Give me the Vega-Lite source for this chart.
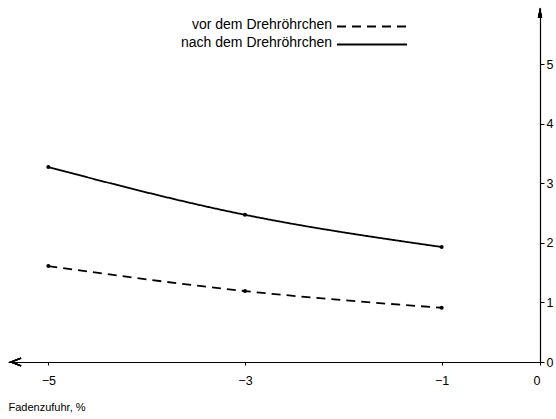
{
  "$schema": "https://vega.github.io/schema/vega-lite/v6.json",
  "autosize": "none",
  "width": 532,
  "height": 354,
  "padding": {"left": 8, "top": 8, "right": 16, "bottom": 57},
  "background": "white",
  "config": {
    "font": "Liberation Sans",
    "view": {"stroke": null},
    "axis": {"grid": false, "domainColor": "black", "tickColor": "black", "labelColor": "black", "titleColor": "black", "domainWidth": 1.2}
  },
  "data": {
    "values": [
      {"zufuhr": -5, "wert": 1.61, "serie": "vor dem Drehröhrchen"},
      {"zufuhr": -3, "wert": 1.19, "serie": "vor dem Drehröhrchen"},
      {"zufuhr": -1, "wert": 0.91, "serie": "vor dem Drehröhrchen"},
      {"zufuhr": -5, "wert": 3.27, "serie": "nach dem Drehröhrchen"},
      {"zufuhr": -3, "wert": 2.47, "serie": "nach dem Drehröhrchen"},
      {"zufuhr": -1, "wert": 1.93, "serie": "nach dem Drehröhrchen"}
    ]
  },
  "encoding": {
    "x": {
      "field": "zufuhr", "type": "quantitative",
      "scale": {"domain": [-5.41, 0], "nice": false, "zero": false},
      "axis": {
        "values": [-5, -3, -1, 0], "title": "Fadenzufuhr, %",
        "labelFontSize": 12.5, "labelPadding": 9, "tickSize": 3,
        "titleFontSize": 11, "titleFontWeight": "normal",
        "titleAnchor": "start", "titleAlign": "left", "titleX": 0, "titleY": 45, "titleBaseline": "middle"
      }
    },
    "y": {
      "field": "wert", "type": "quantitative",
      "scale": {"domain": [0, 5.94], "nice": false},
      "axis": {
        "orient": "right", "values": [0, 1, 2, 3, 4, 5], "title": null,
        "labelFontSize": 12.5, "labelPadding": 2, "tickSize": 4
      }
    }
  },
  "layer": [
    {
      "mark": {"type": "line", "interpolate": "monotone", "color": "black", "strokeWidth": 1.8},
      "encoding": {
        "detail": {"field": "serie"},
        "strokeDash": {
          "field": "serie", "type": "nominal",
          "scale": {"domain": ["vor dem Drehröhrchen", "nach dem Drehröhrchen"], "range": [[9, 6], [1, 0]]},
          "legend": {
            "title": null, "orient": "none", "legendX": 322, "legendY": 10,
            "padding": 0, "symbolType": "M0,0.3H14", "symbolSize": 100,
            "symbolStrokeColor": "black", "symbolStrokeWidth": 1.8,
            "labelAlign": "right", "labelOffset": -12, "labelFontSize": 14,
            "labelColor": "black", "rowPadding": 4, "labelLimit": 300
          }
        }
      }
    },
    {
      "mark": {"type": "point", "filled": true, "color": "black", "size": 16, "opacity": 1}
    },
    {
      "mark": {"type": "point", "shape": "M1.6,-1L-1,0L1.6,1", "filled": false, "stroke": "black", "strokeWidth": 1.4, "size": 60},
      "encoding": {"x": {"datum": -5.34}, "y": {"datum": 0}}
    },
    {
      "mark": {"type": "point", "shape": "M-0.55,1.6L0,-1L0.55,1.6Z", "filled": true, "color": "black", "size": 60, "opacity": 1},
      "encoding": {"x": {"datum": 0}, "y": {"datum": 5.88}}
    }
  ]
}
